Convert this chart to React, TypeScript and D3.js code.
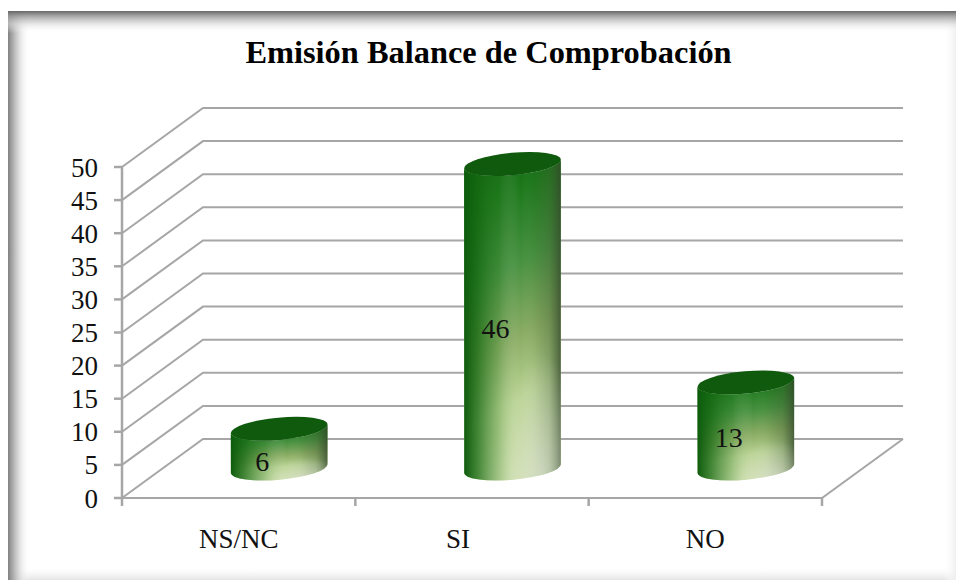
import React, { useEffect, useRef } from "react";
import * as d3 from "d3";

const TITLE = "Emisión Balance de Comprobación";
const categories = ["NS/NC", "SI", "NO"];
const values = [6, 46, 13];
const yTicks = [0, 5, 10, 15, 20, 25, 30, 35, 40, 45, 50];
const categoryNudge = [0, -14, 0];

const W = 956;
const H = 580;
const FONT = "'Liberation Serif', 'Times New Roman', serif";
const GRID = "#a6a6a6";

// Oblique projection of the chart box
const plot = { left: 122, right: 822, bottom: 498, top: 167, depthX: 81, depthY: -59 };
const barWidth = 97;
const tilt = 5.3;
const ry = 11.2;

export default function App() {
  const ref = useRef<SVGSVGElement>(null);

  useEffect(() => {
    const svg = d3.select(ref.current!);
    svg.selectAll("*").remove();

    const defs = svg.append("defs");
    const linear = (
      id: string,
      [x1, y1, x2, y2]: number[],
      stops: [number, string, number][],
    ) => {
      const g = defs.append("linearGradient").attr("id", id)
        .attr("x1", x1).attr("y1", y1).attr("x2", x2).attr("y2", y2);
      stops.forEach(([o, c, a]) =>
        g.append("stop").attr("offset", o).attr("stop-color", c).attr("stop-opacity", a));
    };

    linear("edgeTop", [0, 0, 0, 1], [[0, "#666666", 1], [0.25, "#9c9c9c", 0.85], [0.6, "#d8d8d8", 0.6], [1, "#ffffff", 0]]);
    linear("edgeLeft", [0, 0, 1, 0], [[0, "#808080", 1], [0.25, "#a4a4a4", 0.85], [0.6, "#dcdcdc", 0.6], [1, "#ffffff", 0]]);
    linear("edgeBottom", [0, 0, 0, 1], [[0, "#ffffff", 0], [1, "#e4e4e4", 1]]);
    linear("edgeRight", [0, 0, 1, 0], [[0, "#ffffff", 0], [1, "#efefef", 1]]);

    // Cylinder shading: a slightly slanted green-to-pale ramp with darker flanks
    linear("bodyV", [0.42, 0, 0.58, 1], [
      [0, "#126a10", 1], [0.1, "#1b7719", 1], [0.33, "#45903f", 1],
      [0.55, "#88ab62", 1], [0.75, "#b9d392", 1], [1, "#cfe0ad", 1],
    ]);
    linear("bodyH", [0, 0, 1, 0], [
      [0, "#0c5a0c", 0.98], [0.14, "#12660f", 0.72], [0.36, "#2a7a24", 0.25],
      [0.58, "#ffffff", 0], [0.72, "#3c5a30", 0.06], [0.88, "#3c5a30", 0.35], [1, "#33472a", 0.8],
    ]);
    const glow = defs.append("radialGradient").attr("id", "bodyGlow")
      .attr("cx", 0.8).attr("cy", 1).attr("r", 0.4);
    glow.append("stop").attr("offset", 0).attr("stop-color", "#dfe2da").attr("stop-opacity", 0.6);
    glow.append("stop").attr("offset", 1).attr("stop-color", "#dfe2da").attr("stop-opacity", 0);

    // Page frame with its soft inner shadow
    const fx = 8, fy = 11;
    const frame = svg.append("g");
    frame.append("rect").attr("x", fx).attr("y", fy).attr("width", W - fx).attr("height", H - fy).attr("fill", "#ffffff");
    frame.append("rect").attr("x", fx).attr("y", H - 14).attr("width", W - fx).attr("height", 14).attr("fill", "url(#edgeBottom)");
    frame.append("rect").attr("x", W - 12).attr("y", fy).attr("width", 12).attr("height", H - fy).attr("fill", "url(#edgeRight)");
    frame.append("rect").attr("x", fx).attr("y", fy).attr("width", 22).attr("height", H - fy).attr("fill", "url(#edgeLeft)");
    frame.append("rect").attr("x", fx).attr("y", fy).attr("width", W - fx).attr("height", 22).attr("fill", "url(#edgeTop)");

    const y = d3.scaleLinear().domain([0, 50]).range([plot.bottom, plot.top]);
    const x = d3.scaleBand<string>().domain(categories).range([plot.left, plot.right]);
    const { depthX, depthY } = plot;

    svg.append("text").attr("x", 488.5).attr("y", 63).attr("text-anchor", "middle")
      .attr("font-family", FONT).attr("font-size", 32.4).attr("font-weight", "bold")
      .attr("fill", "#000").text(TITLE);

    // Side wall and back wall gridlines
    const grid = svg.append("g").attr("fill", "none").attr("stroke", GRID).attr("stroke-width", 2);
    yTicks.forEach((t) => {
      grid.append("path").attr("d", d3.line()([
        [plot.left, y(t)],
        [plot.left + depthX, y(t) + depthY],
        [plot.right + depthX, y(t) + depthY],
      ]));
    });
    grid.append("path").attr("d", d3.line()([
      [plot.left, plot.bottom],
      [plot.right, plot.bottom],
      [plot.right + depthX, plot.bottom + depthY],
    ]));

    // Value axis and category axis with their ticks
    const axes = svg.append("g").attr("stroke", GRID).attr("stroke-width", 2.5);
    axes.append("line").attr("x1", plot.left).attr("x2", plot.left).attr("y1", y(50)).attr("y2", plot.bottom);
    yTicks.forEach((t) => {
      axes.append("line").attr("x1", plot.left - 8).attr("x2", plot.left).attr("y1", y(t)).attr("y2", y(t));
      svg.append("text").attr("x", plot.left - 24).attr("y", y(t) + 9.5).attr("text-anchor", "end")
        .attr("font-family", FONT).attr("font-size", 27).attr("fill", "#111").text(t);
    });
    [...categories.map((c) => x(c)!), plot.right].forEach((p) => {
      axes.append("line").attr("x1", p).attr("x2", p).attr("y1", plot.bottom).attr("y2", plot.bottom + 8);
    });

    categories.forEach((c, i) => {
      svg.append("text").attr("x", x(c)! + x.bandwidth() / 2 + categoryNudge[i]).attr("y", 548)
        .attr("text-anchor", "middle").attr("font-family", FONT).attr("font-size", 27)
        .attr("fill", "#111").text(c);
    });

    // Cylinders: body with layered shading, then the top cap
    const rx = barWidth / 2;
    const dxEnd = rx * Math.cos((tilt * Math.PI) / 180);
    const dyEnd = rx * Math.sin((tilt * Math.PI) / 180);
    values.forEach((v, i) => {
      const c = categories[i];
      const cx = x(c)! + x.bandwidth() / 2 + depthX / 2;
      const yBase = y(0) + depthY / 2;
      const yTop = y(v) + depthY / 2;
      const body =
        `M${cx - dxEnd},${yTop + dyEnd} L${cx - dxEnd},${yBase + dyEnd} ` +
        `A${rx},${ry} ${-tilt} 0 0 ${cx + dxEnd},${yBase - dyEnd} ` +
        `L${cx + dxEnd},${yTop - dyEnd} ` +
        `A${rx},${ry} ${-tilt} 0 1 ${cx - dxEnd},${yTop + dyEnd} Z`;
      ["url(#bodyV)", "url(#bodyH)", "url(#bodyGlow)"].forEach((fill) => {
        svg.append("path").attr("d", body).attr("fill", fill);
      });
      svg.append("ellipse").attr("cx", cx).attr("cy", yTop).attr("rx", rx).attr("ry", ry)
        .attr("transform", `rotate(${-tilt} ${cx} ${yTop})`).attr("fill", "#0f5a0c");
      svg.append("text").attr("x", cx - 17).attr("y", (yTop + yBase) / 2 + 13 + 9)
        .attr("text-anchor", "middle").attr("font-family", FONT).attr("font-size", 28)
        .attr("fill", "#111").text(v);
    });
  }, []);

  return (
    <svg
      ref={ref}
      width={W}
      height={H}
      style={{ position: "absolute", left: 0, top: 0, display: "block" }}
    />
  );
}
